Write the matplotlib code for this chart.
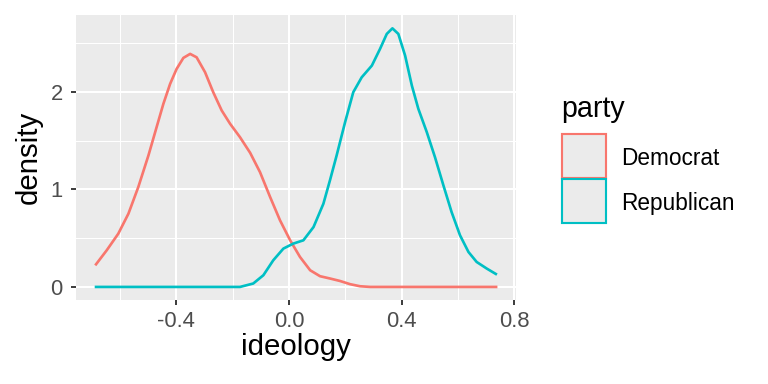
import matplotlib
matplotlib.use("Agg")
import matplotlib.pyplot as plt
from matplotlib.patches import Rectangle

plt.rcParams["font.family"] = ["Liberation Sans", "DejaVu Sans"]

# values
dem_x = [-0.685, -0.647, -0.606, -0.570, -0.535, -0.499, -0.470, -0.446, -0.422,
         -0.399, -0.375, -0.351, -0.328, -0.298, -0.269, -0.239, -0.209, -0.174,
         -0.138, -0.103, -0.067, -0.032, 0.004, 0.039, 0.075, 0.110, 0.146,
         0.181, 0.217, 0.252, 0.288, 0.735]
dem_y = [0.232, 0.376, 0.546, 0.751, 1.024, 1.348, 1.638, 1.877, 2.082,
         2.235, 2.348, 2.389, 2.354, 2.201, 1.996, 1.809, 1.672, 1.535,
         1.375, 1.177, 0.921, 0.683, 0.478, 0.307, 0.171, 0.110, 0.086,
         0.061, 0.028, 0.007, 0.0, 0.0]

rep_x = [-0.685, -0.174, -0.127, -0.091, -0.056, -0.020, 0.015, 0.051, 0.087,
         0.122, 0.146, 0.169, 0.199, 0.228, 0.258, 0.294, 0.323, 0.347, 0.367,
         0.388, 0.412, 0.436, 0.459, 0.489, 0.518, 0.548, 0.577, 0.607, 0.637,
         0.666, 0.702, 0.734]
rep_y = [0.0, 0.0, 0.035, 0.120, 0.273, 0.393, 0.444, 0.478, 0.614,
         0.853, 1.10, 1.348, 1.689, 1.996, 2.149, 2.269, 2.440, 2.594, 2.651,
         2.594, 2.372, 2.064, 1.826, 1.587, 1.331, 1.041, 0.768, 0.529, 0.358,
         0.256, 0.188, 0.133]

parties = ["Democrat", "Republican"]
colors = ["#F8766D", "#00BFC4"]

W, H = 768, 384
fig = plt.figure(figsize=(W / 96, H / 96), dpi=96)
ax = fig.add_axes([0.099, 0.219, 0.573, 0.742])
ax.set_facecolor("#EBEBEB")
for s in ax.spines.values():
    s.set_visible(False)

ax.plot(dem_x, dem_y, color=colors[0], lw=2.0, solid_joinstyle="round")
ax.plot(rep_x, rep_y, color=colors[1], lw=2.0, solid_joinstyle="round")

ax.set_xlim(-0.756, 0.806)
ax.set_ylim(-0.133, 2.788)
ax.set_xticks([-0.4, 0.0, 0.4, 0.8])
ax.set_xticklabels(["-0.4", "0.0", "0.4", "0.8"])
ax.set_xticks([-0.6, -0.2, 0.2, 0.6], minor=True)
ax.set_yticks([0, 1, 2])
ax.set_yticks([0.5, 1.5, 2.5], minor=True)
ax.grid(which="major", color="white", lw=1.5)
ax.grid(which="minor", color="white", lw=0.75)
ax.set_axisbelow(True)
ax.tick_params(which="major", length=4, width=1.4, color="#333333",
               labelcolor="#4D4D4D", labelsize=16.5)
ax.tick_params(axis="x", pad=4.3)
ax.tick_params(axis="y", pad=6)
ax.tick_params(which="minor", length=0)

ax.set_xlabel("ideology", fontsize=22, labelpad=0.5)
ax.set_ylabel("density", fontsize=22, labelpad=6)

# legend, drawn by hand to get ggplot-sized keys (pixel positions from the top)
def fx(px):
    return px / W

def fy(py):
    return 1 - py / H

fig.text(fx(561), fy(116.7), "party", fontsize=21.5, ha="left", va="baseline")
key = 44
for i, (p, c) in enumerate(zip(parties, colors)):
    top = 134 + i * 45
    fig.add_artist(Rectangle((fx(562), fy(top + key)), key / W, key / H,
                             transform=fig.transFigure, facecolor="#EBEBEB",
                             edgecolor=c, lw=1.6))
    fig.text(fx(621), fy(top + key / 2), p, fontsize=17, ha="left",
             va="center_baseline")

fig.savefig("out.png", dpi=96)
